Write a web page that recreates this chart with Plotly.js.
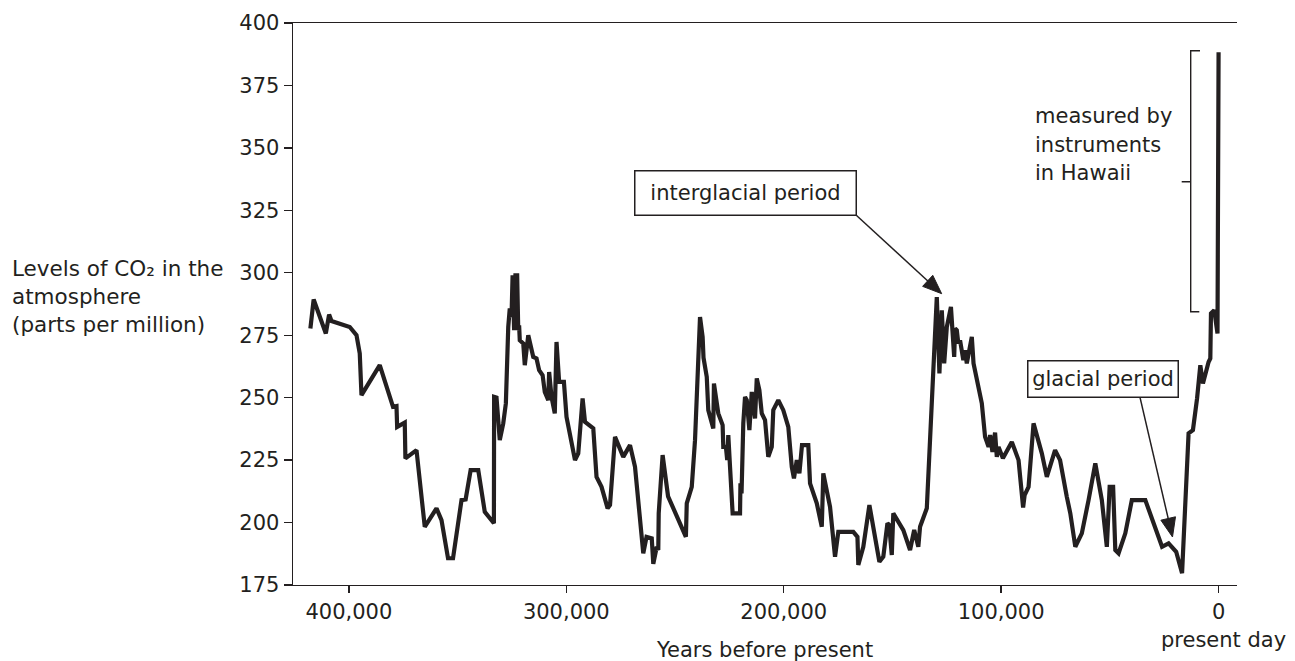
<!DOCTYPE html>
<html>
<head>
<meta charset="utf-8">
<script src="https://cdn.plot.ly/plotly-3.0.1.min.js"></script>
<style>html,body{margin:0;padding:0;background:#fff;}#chart{width:1295px;height:661px;}</style>
</head>
<body>
<div id="chart"></div>
<script>
// Years before present (ice-core record + instrument record at the end)
const years = [
417700,416200,410600,409100,408000,399600,396500,395000,394200,385800,
379700,378100,377800,374300,374000,368900,365100,359700,357400,354400,
352100,348200,346300,344000,340500,338200,337500,333300,333200,332100,
330600,329000,327800,326700,326000,325200,324700,324000,323400,322600,
322100,321700,321400,319800,319100,317500,315200,313700,312500,310900,
309900,308300,307900,306800,305300,304500,303300,301100,299900,296000,
294500,292500,291400,287600,286100,283800,281000,279900,277600,273800,
270700,268400,264600,263100,260700,260000,258400,257700,257500,255700,
253200,248500,245000,244600,242300,240800,240000,238500,237300,236900,
235400,234700,232400,232100,230100,228100,227800,226600,226000,225500,
224700,223500,220100,219900,219400,218600,217800,217000,215800,214700,
213200,212400,211200,210100,208600,207100,205500,204800,202500,200200,
197900,196300,195300,194000,192800,191600,188700,187900,184800,182500,
181800,178700,176400,174900,168000,166100,165700,163400,160600,156000,
154200,152300,151500,150300,149600,145000,141900,140000,138100,137300,
134200,131200,129600,128400,127300,126200,125000,123100,122200,121600,
121200,120400,119700,118900,117400,116600,115800,113500,112700,111200,
108900,107400,105800,105100,104000,102800,102000,101200,99200,95100,
92000,89900,89200,87400,85100,81300,79000,75200,72900,69800,
68200,65900,62900,59800,56700,53700,51400,50100,48500,47500,
46000,42900,39900,33700,29900,26800,26000,23000,19500,16800,
13800,11800,9900,8400,7200,4600,3800,3500,2000,500,
0
];
// CO2 concentration (ppm)
const co2 = [
277.7,289.3,275.7,283.3,280.7,278.3,275.0,267.7,251.0,263.0,
246.3,246.6,238.3,240.0,225.7,229.0,198.3,205.7,201.0,185.7,
185.7,209.0,209.3,221.0,221.0,206.3,204.3,199.7,250.3,250.0,
233.0,239.7,247.7,278.3,285.7,282.3,299.0,277.0,299.0,299.0,
277.0,279.0,273.0,271.7,263.0,275.0,266.3,265.7,261.0,259.0,
252.3,249.0,260.3,250.3,243.7,272.3,256.3,256.3,242.3,225.0,
227.7,249.7,240.3,237.7,218.3,214.3,205.7,207.0,234.3,226.3,
231.0,222.3,187.7,194.3,193.7,183.5,190.3,189.0,203.7,227.0,
210.5,201.0,194.3,207.7,214.3,233.0,251.7,282.3,274.3,266.0,
258.3,245.0,237.7,255.7,243.7,239.0,230.3,230.3,225.0,235.0,
222.3,203.7,203.7,215.7,211.7,239.7,250.3,249.0,237.0,252.3,
241.7,257.7,253.0,243.7,241.0,226.3,230.3,245.0,249.0,245.0,
238.3,222.3,217.7,225.0,219.7,231.0,231.0,215.7,207.7,198.3,
219.7,206.3,186.3,196.3,196.3,194.3,183.0,190.3,207.0,184.3,
186.3,199.7,199.0,187.0,203.7,197.0,189.0,197.0,190.3,198.3,
205.7,265.0,290.3,259.7,285.0,263.7,278.3,286.3,273.0,266.3,
277.7,277.0,271.7,273.0,265.0,269.0,263.7,274.3,263.7,257.0,
247.7,234.3,230.3,235.0,228.3,236.0,226.3,230.3,225.7,232.3,
225.0,206.0,211.0,214.3,239.7,227.7,218.3,229.0,225.0,210.3,
203.7,190.3,195.7,209.0,223.7,209.0,190.3,214.3,214.3,189.0,
187.7,195.7,209.0,209.0,199.7,191.7,190.3,191.7,188.3,179.7,
235.7,237.0,249.7,263.0,255.7,264.3,265.7,283.7,285.0,275.7,
388.3
];
const yTicks = [175,200,225,250,275,300,325,350,375,400];
const xTicks = [400000,300000,200000,100000,0];
const xTickText = ['400,000','300,000','200,000','100,000','0'];

const INK = '#231f20';
const FONT = 'DejaVu Sans, Arial, sans-serif';
const FS = 21;

const trace = {
  x: years, y: co2, type: 'scatter', mode: 'lines',
  line: {color: INK, width: 4.2}, hoverinfo: 'skip'
};

const W = 944, H = 562, L = 293, T = 23;
const px = p => (p - L) / W;
const py = p => (T + H - p) / H;

function txt(text, x, y, opts) {
  return Object.assign({text: text, x: x, y: y, xref: 'paper', yref: 'paper',
    showarrow: false, font: {family: FONT, size: FS, color: INK},
    xanchor: 'left', yanchor: 'middle', align: 'left'}, opts || {});
}

const annotations = [
  txt('Levels of CO\u2082 in the', px(10), py(268), {font: {family: FONT, size: 21.5, color: INK}}),
  txt('atmosphere', px(10), py(296), {font: {family: FONT, size: 21.5, color: INK}}),
  txt('(parts per million)', px(10), py(324), {font: {family: FONT, size: 21.5, color: INK}}),
  txt('Years before present', px(764), py(650), {xanchor: 'center'}),
  txt('present day', px(1223), py(640), {xanchor: 'center'}),
  txt('measured by', px(1033), py(116)),
  txt('instruments', px(1033), py(145)),
  txt('in Hawaii', px(1033), py(173)),
  {text: 'interglacial period', x: px(745), y: py(192.5), xref: 'paper', yref: 'paper', showarrow: false,
   font: {family: FONT, size: FS, color: INK}, bordercolor: INK, borderwidth: 1.5,
   borderpad: 0, width: 220, height: 43, bgcolor: '#ffffff', xanchor: 'center', yanchor: 'middle'},
  {text: 'glacial period', x: px(1102.5), y: py(378.7), xref: 'paper', yref: 'paper', showarrow: false,
   font: {family: FONT, size: FS, color: INK}, bordercolor: INK, borderwidth: 1.5,
   borderpad: 0, width: 149, height: 35, bgcolor: '#ffffff', xanchor: 'center', yanchor: 'middle'}
];

// arrow (line + filled head) in pixel space, converted to paper fractions
function arrowShapes(x0, y0, x1, y1, len, half) {
  const dx = x1 - x0, dy = y1 - y0, d = Math.hypot(dx, dy);
  const ux = dx / d, uy = dy / d, nx = -uy, ny = ux;
  const bx = x1 - ux * len, by = y1 - uy * len;
  return [
    {type: 'line', xref: 'paper', yref: 'paper', x0: px(x0), y0: py(y0), x1: px(bx + ux * 2), y1: py(by + uy * 2),
     line: {color: INK, width: 1.5}},
    {type: 'path', xref: 'paper', yref: 'paper', fillcolor: INK, line: {color: INK, width: 1},
     path: 'M ' + px(x1) + ',' + py(y1) + ' L ' + px(bx + nx * half) + ',' + py(by + ny * half) +
           ' L ' + px(bx - nx * half) + ',' + py(by - ny * half) + ' Z'}
  ];
}

const shapes = [
  {type: 'path', xref: 'paper', yref: 'paper',
   path: 'M ' + px(1200) + ',' + py(50.7) + ' L ' + px(1190.7) + ',' + py(50.7) +
         ' L ' + px(1190.7) + ',' + py(311.7) + ' L ' + px(1199.3) + ',' + py(311.7) +
         ' M ' + px(1190.7) + ',' + py(181.7) + ' L ' + px(1181.7) + ',' + py(181.7),
   line: {color: INK, width: 1.4}}
].concat(arrowShapes(856, 215, 941.7, 293.7, 19, 7.5))
 .concat(arrowShapes(1140, 397.3, 1172.5, 537, 19, 7.5));

const layout = {
  width: 1295, height: 661,
  margin: {l: L, r: 1295 - L - W, t: T, b: 661 - T - H, pad: 0},
  paper_bgcolor: '#ffffff', plot_bgcolor: '#ffffff',
  showlegend: false,
  font: {family: FONT, size: FS, color: INK},
  xaxis: {
    range: [425700, -8470], tickmode: 'array', tickvals: xTicks, ticktext: xTickText,
    ticks: 'outside', ticklen: 7, tickwidth: 1.4, tickcolor: INK,
    showline: true, linecolor: INK, linewidth: 1.4, mirror: true,
    showgrid: false, zeroline: false, tickfont: {family: FONT, size: FS, color: INK}
  },
  yaxis: {
    range: [175, 400], tickmode: 'array', tickvals: yTicks,
    ticks: 'outside', ticklen: 8, tickwidth: 1.4, tickcolor: INK,
    showline: true, linecolor: INK, linewidth: 1.4,
    showgrid: false, zeroline: false, tickfont: {family: FONT, size: FS, color: INK}
  },
  annotations: annotations,
  shapes: shapes
};

Plotly.newPlot('chart', [trace], layout, {displayModeBar: false, staticPlot: true}).then(function () {
  // drop Plotly's hidden text-measuring helper and any empty text nodes
  const tester = document.getElementById('js-plotly-tester');
  if (tester) tester.remove();
  document.querySelectorAll('#chart text').forEach(function (t) {
    if (!t.textContent.trim()) t.remove();
  });
});
</script>
</body>
</html>
